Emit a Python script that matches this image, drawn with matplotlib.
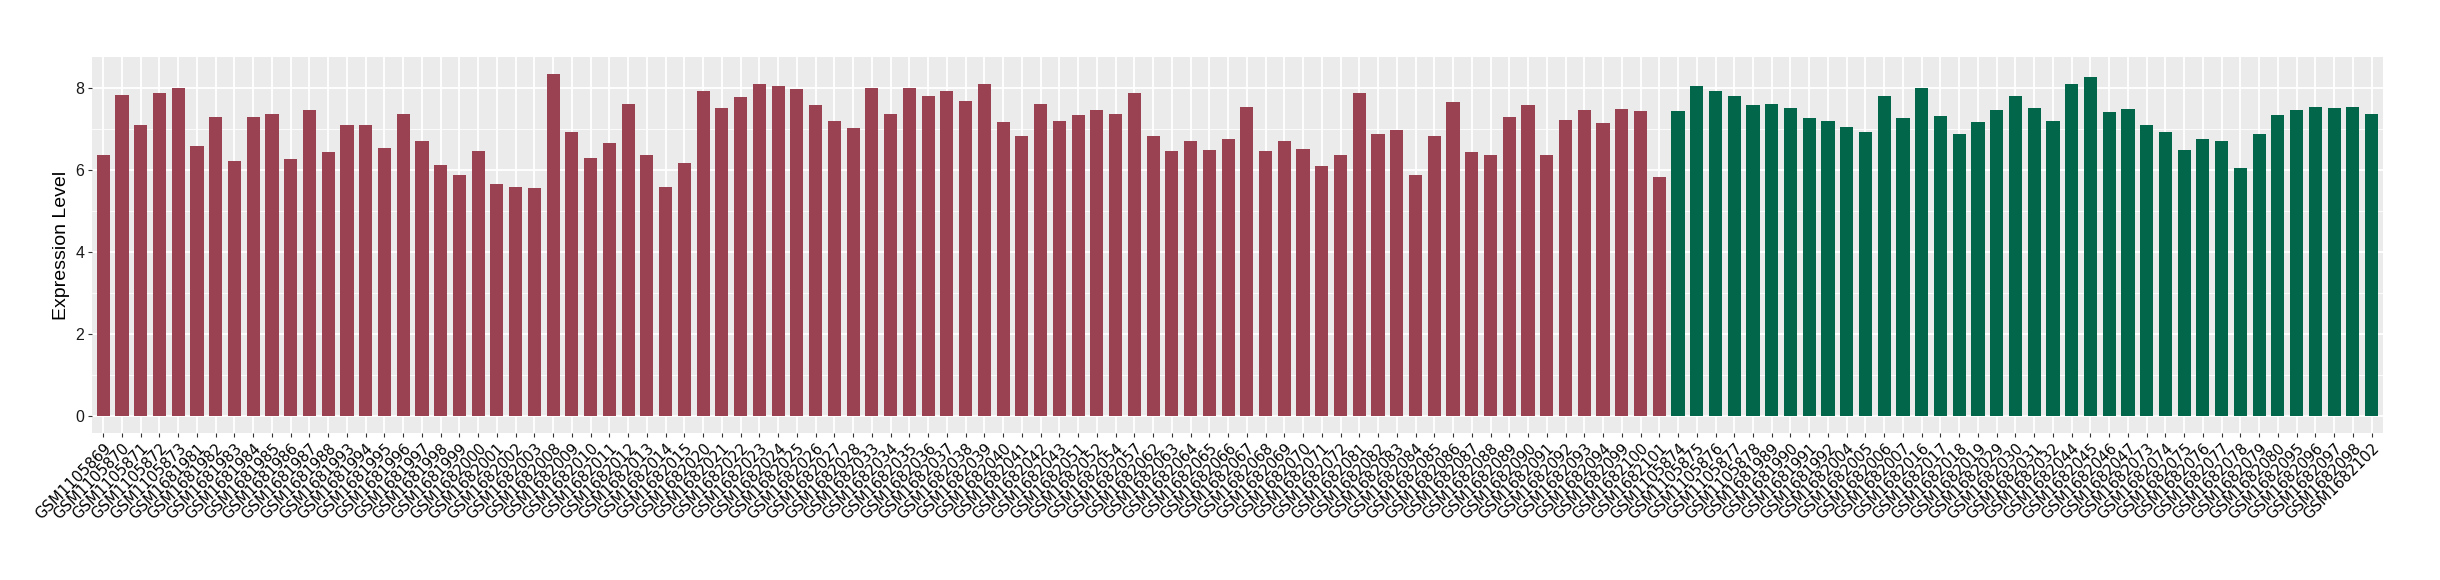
import numpy as np
import matplotlib
matplotlib.use("Agg")
import matplotlib.pyplot as plt
from matplotlib.ticker import MultipleLocator

# Samples, group 1 (red)
samples_a = [
    "GSM1105869", "GSM1105870", "GSM1105871", "GSM1105872", "GSM1105873",
    "GSM1681981", "GSM1681982", "GSM1681983", "GSM1681984", "GSM1681985",
    "GSM1681986", "GSM1681987", "GSM1681988", "GSM1681993", "GSM1681994",
    "GSM1681995", "GSM1681996", "GSM1681997", "GSM1681998", "GSM1681999",
    "GSM1682000", "GSM1682001", "GSM1682002", "GSM1682003", "GSM1682008",
    "GSM1682009", "GSM1682010", "GSM1682011", "GSM1682012", "GSM1682013",
    "GSM1682014", "GSM1682015", "GSM1682020", "GSM1682021", "GSM1682022",
    "GSM1682023", "GSM1682024", "GSM1682025", "GSM1682026", "GSM1682027",
    "GSM1682028", "GSM1682033", "GSM1682034", "GSM1682035", "GSM1682036",
    "GSM1682037", "GSM1682038", "GSM1682039", "GSM1682040", "GSM1682041",
    "GSM1682042", "GSM1682043", "GSM1682051", "GSM1682052", "GSM1682054",
    "GSM1682057", "GSM1682062", "GSM1682063", "GSM1682064", "GSM1682065",
    "GSM1682066", "GSM1682067", "GSM1682068", "GSM1682069", "GSM1682070",
    "GSM1682071", "GSM1682072", "GSM1682081", "GSM1682082", "GSM1682083",
    "GSM1682084", "GSM1682085", "GSM1682086", "GSM1682087", "GSM1682088",
    "GSM1682089", "GSM1682090", "GSM1682091", "GSM1682092", "GSM1682093",
    "GSM1682094", "GSM1682099", "GSM1682100", "GSM1682101",
]
expr_a = [
    6.35, 7.81, 7.08, 7.88, 8.00, 6.57, 7.28, 6.21, 7.28, 7.35,
    6.25, 7.45, 6.42, 7.08, 7.08, 6.52, 7.35, 6.71, 6.11, 5.88,
    6.45, 5.64, 5.57, 5.55, 8.33, 6.93, 6.28, 6.64, 7.59, 6.37,
    5.59, 6.16, 7.93, 7.51, 7.76, 8.08, 8.05, 7.96, 7.57, 7.18,
    7.01, 8.00, 7.37, 7.98, 7.79, 7.93, 7.67, 8.08, 7.16, 6.81,
    7.59, 7.18, 7.33, 7.45, 7.37, 7.86, 6.81, 6.45, 6.71, 6.47,
    6.76, 7.54, 6.45, 6.70, 6.50, 6.08, 6.37, 7.86, 6.88, 6.96,
    5.87, 6.81, 7.64, 6.42, 6.35, 7.28, 7.57, 6.37, 7.20, 7.45,
    7.13, 7.47, 7.42, 5.82,
]

# Samples, group 2 (green)
samples_b = [
    "GSM1105874", "GSM1105875", "GSM1105876", "GSM1105877", "GSM1105878",
    "GSM1681989", "GSM1681990", "GSM1681991", "GSM1681992", "GSM1682004",
    "GSM1682005", "GSM1682006", "GSM1682007", "GSM1682016", "GSM1682017",
    "GSM1682018", "GSM1682019", "GSM1682029", "GSM1682030", "GSM1682031",
    "GSM1682032", "GSM1682044", "GSM1682045", "GSM1682046", "GSM1682047",
    "GSM1682073", "GSM1682074", "GSM1682075", "GSM1682076", "GSM1682077",
    "GSM1682078", "GSM1682079", "GSM1682080", "GSM1682095", "GSM1682096",
    "GSM1682097", "GSM1682098", "GSM1682102",
]
expr_b = [
    7.42, 8.05, 7.91, 7.79, 7.57, 7.59, 7.50, 7.25, 7.18, 7.05,
    6.93, 7.79, 7.25, 7.98, 7.30, 6.87, 7.16, 7.45, 7.79, 7.50,
    7.18, 8.10, 8.25, 7.40, 7.47, 7.10, 6.93, 6.47, 6.76, 6.71,
    6.04, 6.88, 7.33, 7.45, 7.54, 7.51, 7.54, 7.35,
]

col_a = "#9A4251"
col_b = "#02674A"

labels = samples_a + samples_b
values = np.array(expr_a + expr_b)
colors = [col_a] * len(samples_a) + [col_b] * len(samples_b)
x = np.arange(len(labels))

fig = plt.figure(figsize=(24.4, 5.8), dpi=100)
ax = fig.add_axes([0.0377, 0.2534, 0.9389, 0.6483])

ax.set_facecolor("#EBEBEB")
ax.bar(x, values, width=0.7, color=colors, zorder=3)

# ggplot-like expansion
ax.set_xlim(-0.6, len(labels) - 1 + 0.6)
vmax = values.max()
ax.set_ylim(-0.05 * vmax, 1.05 * vmax)

ax.yaxis.set_major_locator(MultipleLocator(2))
ax.yaxis.set_minor_locator(MultipleLocator(1))
ax.grid(which="major", color="white", linewidth=1.3, zorder=1)
ax.grid(which="minor", axis="y", color="white", linewidth=0.6, zorder=1)
ax.tick_params(axis="x", which="minor", bottom=False)

for s in ax.spines.values():
    s.set_visible(False)

ax.set_xticks(x)
ax.set_xticklabels(labels, rotation=45, ha="right", rotation_mode="anchor",
                   fontsize=10.7, family="DejaVu Sans", color="black")
ax.tick_params(axis="both", which="major", length=3, width=0.8,
               color="#333333", pad=2.5)
ax.tick_params(axis="y", which="minor", left=False)
for t in ax.get_yticklabels():
    t.set_family("Liberation Sans")
    t.set_fontsize(11.5)
    t.set_color("#1A1A1A")

ax.set_ylabel("Expression Level", fontsize=14, family="Liberation Sans",
              labelpad=4)

fig.savefig("out.png", dpi=100)
